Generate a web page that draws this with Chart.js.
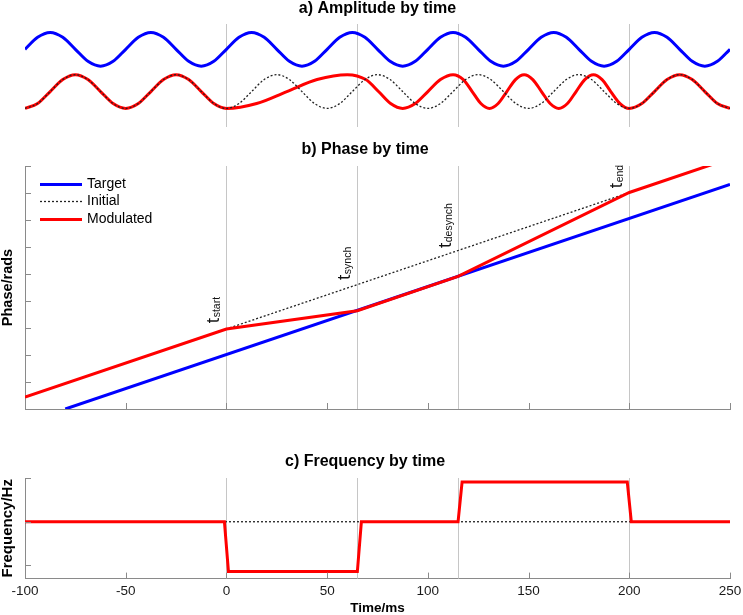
<!DOCTYPE html>
<html lang="en">
<head>
<meta charset="UTF-8">
<title>Amplitude, phase and frequency by time</title>
<script src="https://cdn.jsdelivr.net/npm/chart.js"></script>
<style>
  html, body { margin: 0; padding: 0; background: #fff; overflow: hidden; }
  #wrap { position: relative; width: 743px; height: 615px; overflow: hidden; }
  #wrap canvas { position: absolute; left: 0; }
</style>
</head>
<body>
<div id="wrap">
  <canvas id="ampChart" width="743" height="128" style="top:-1px"></canvas>
  <canvas id="phaseChart" width="743" height="271" style="top:140px"></canvas>
  <canvas id="freqChart" width="743" height="164" style="top:452px"></canvas>
</div>
<script>
// event markers (ms) and where their labels sit on the phase axis
const eventTimes = [0, 65, 115, 200];
const eventNames = ['start', 'synch', 'desynch', 'end'];
const eventLabelPhase = [15.9, 23.9, 29.8, 40.9];

// a) amplitude, every eighth of a cycle
const ampTimes = [-100, -93.75, -87.5, -81.25, -75, -68.75, -62.5, -56.25, -50, -43.75, -37.5, -31.25,
  -25, -18.75, -12.5, -6.25, 0, 6.25, 12.5, 18.75, 25, 31.25, 37.5, 43.75, 50, 56.25, 62.5, 68.75,
  75, 81.25, 87.5, 93.75, 100, 106.25, 112.5, 118.75, 125, 131.25, 137.5, 143.75, 150, 156.25,
  162.5, 168.75, 175, 181.25, 187.5, 193.75, 200, 206.25, 212.5, 218.75, 225, 231.25, 237.5, 243.75, 250];
const ampTarget = [2.5, 3.21, 3.5, 3.21, 2.5, 1.79, 1.5, 1.79, 2.5, 3.21, 3.5, 3.21,
  2.5, 1.79, 1.5, 1.79, 2.5, 3.21, 3.5, 3.21, 2.5, 1.79, 1.5, 1.79, 2.5, 3.21, 3.5, 3.21,
  2.5, 1.79, 1.5, 1.79, 2.5, 3.21, 3.5, 3.21, 2.5, 1.79, 1.5, 1.79, 2.5, 3.21,
  3.5, 3.21, 2.5, 1.79, 1.5, 1.79, 2.5, 3.21, 3.5, 3.21, 2.5, 1.79, 1.5, 1.79, 2.5];
const ampInitial = [-1, -0.71, 0, 0.71, 1, 0.71, 0, -0.71, -1, -0.71, 0, 0.71,
  1, 0.71, 0, -0.71, -1, -0.71, 0, 0.71, 1, 0.71, 0, -0.71, -1, -0.71, 0, 0.71,
  1, 0.71, 0, -0.71, -1, -0.71, 0, 0.71, 1, 0.71, 0, -0.71, -1, -0.71,
  0, 0.71, 1, 0.71, 0, -0.71, -1, -0.71, 0, 0.71, 1, 0.71, 0, -0.71, -1];
const ampModTimes = [-100, -93.75, -87.5, -81.25, -75, -68.75, -62.5, -56.25, -50, -43.75, -37.5, -31.25,
  -25, -18.75, -12.5, -6.25, 0, 15, 30, 45, 60, 69.2, 75.5, 81.5, 87.5, 93.75, 100, 106.25, 112.5,
  117.6, 122, 126.3, 130.6, 134.9, 139.2, 143.5, 147.8, 152.1, 156.4, 160.7, 165, 169.3, 173.6,
  177.9, 182.2, 186.5, 190.8, 195.4, 200, 206.25, 212.5, 218.75, 225, 231.25, 237.5, 243.75, 250];
const ampModulated = [-1, -0.71, 0, 0.71, 1, 0.71, 0, -0.71, -1, -0.71, 0, 0.71,
  1, 0.71, 0, -0.71, -1, -0.71, 0, 0.71, 1, 0.71, 0, -0.71, -1, -0.71, 0, 0.71, 1,
  0.71, 0, -0.71, -1, -0.71, 0, 0.71, 1, 0.71, 0, -0.71, -1, -0.71, 0,
  0.71, 1, 0.71, 0, -0.71, -1, -0.71, 0, 0.71, 1, 0.71, 0, -0.71, -1];

// b) phase (rads)
const phaseTargetTimes = [-80, 250];
const phaseTarget = [0, 41.6];
const phaseInitialTimes = [-100, 250];
const phaseInitial = [2.2, 46.4];
const phaseModTimes = [-100, 0, 65, 115, 200, 250];
const phaseModulated = [2.2, 14.8, 18.2, 24.55, 40.1, 46.4];

// c) frequency (Hz)
const freqInitialTimes = [-100, 250];
const freqInitial = [20, 20];
const freqModTimes = [-100, -1, 1, 65, 67, 115, 117, 199, 201, 250];
const freqModulated = [20, 20, 8.6, 8.6, 20, 20, 29.1, 29.1, 20, 20];

// tick positions
const timeTicks = [-100, -50, 0, 50, 100, 150, 200, 250];
const phaseTicks = [0, 5, 10, 15, 20, 25, 30, 35, 40, 45];
const freqTicks = [10, 20, 30];

const BLUE = '#0000ff';
const RED = '#ff0000';
const DASH = '#222222';
const AXIS = '#8a8a8a';

Chart.defaults.font.family = '"Liberation Sans", Arial, sans-serif';
Chart.defaults.color = '#000';

function pts(t, v) {
  return t.map((x, i) => ({ x: x, y: v[i] }));
}
function setTicks(list) {
  return scale => { scale.ticks = list.map(v => ({ value: v })); };
}

// thin grey vertical lines at the event times
const eventLines = {
  id: 'eventLines',
  beforeDatasetsDraw(chart) {
    const { ctx, chartArea, scales: { x } } = chart;
    ctx.save();
    ctx.strokeStyle = '#c6c6c6';
    ctx.lineWidth = 1;
    eventTimes.forEach(t => {
      const px = Math.round(x.getPixelForValue(t)) + 0.5;
      ctx.beginPath();
      ctx.moveTo(px, chartArea.top);
      ctx.lineTo(px, chartArea.bottom);
      ctx.stroke();
    });
    ctx.restore();
  }
};

// matlab style ticks pointing into the plot
const inwardTicks = {
  id: 'inwardTicks',
  afterDatasetsDraw(chart, args, opts) {
    const { ctx, scales: { x, y } } = chart;
    const len = opts.len || 6;
    ctx.save();
    ctx.strokeStyle = AXIS;
    ctx.lineWidth = 1;
    ctx.beginPath();
    x.ticks.forEach((t, i) => {
      const px = Math.round(x.getPixelForTick(i)) + 0.5;
      ctx.moveTo(px, x.top);
      ctx.lineTo(px, x.top - len);
    });
    y.ticks.forEach((t, i) => {
      const py = Math.round(y.getPixelForTick(i)) + 0.5;
      ctx.moveTo(y.right, py);
      ctx.lineTo(y.right + len, py);
    });
    ctx.stroke();
    ctx.restore();
  }
};

// rotated t_start, t_synch ... labels next to the event lines
const eventLabels = {
  id: 'eventLabels',
  afterDatasetsDraw(chart) {
    const { ctx, scales: { x, y } } = chart;
    eventTimes.forEach((t, i) => {
      ctx.save();
      ctx.translate(x.getPixelForValue(t) - 7, y.getPixelForValue(eventLabelPhase[i]));
      ctx.rotate(-Math.PI / 2);
      ctx.fillStyle = '#111';
      ctx.textBaseline = 'alphabetic';
      ctx.font = '19px "Liberation Sans", Arial, sans-serif';
      ctx.fillText('t', 0, 0);
      const w = ctx.measureText('t').width;
      ctx.font = '10.5px "Liberation Sans", Arial, sans-serif';
      ctx.fillText(eventNames[i], w + 0.5, 1);
      ctx.restore();
    });
  }
};

// legend drawn inside the plot, top left
const lineLegend = {
  id: 'lineLegend',
  afterDatasetsDraw(chart) {
    const { ctx, chartArea } = chart;
    ctx.save();
    ctx.font = '14px "Liberation Sans", Arial, sans-serif';
    ctx.textBaseline = 'middle';
    chart.data.datasets.forEach((ds, row) => {
      const y = Math.round(chartArea.top + 17.5 + row * 17.5) + 0.5;
      ctx.strokeStyle = ds.borderColor;
      ctx.lineWidth = ds.borderWidth;
      ctx.setLineDash(ds.borderDash || []);
      ctx.beginPath();
      ctx.moveTo(chartArea.left + 15, y);
      ctx.lineTo(chartArea.left + 57, y);
      ctx.stroke();
      ctx.setLineDash([]);
      ctx.fillStyle = '#000';
      ctx.fillText(ds.label, chartArea.left + 62, y);
    });
    ctx.restore();
  }
};

const titleFont = { size: 16, weight: 'bold' };
const common = {
  responsive: false,
  animation: false,
  events: [],
  elements: { point: { radius: 0 } }
};

// a) Amplitude by time
new Chart(document.getElementById('ampChart'), {
  type: 'line',
  data: {
    datasets: [
      { label: 'Target', data: pts(ampTimes, ampTarget), borderColor: BLUE, borderWidth: 3,
        cubicInterpolationMode: 'monotone', order: 2 },
      { label: 'Modulated', data: pts(ampModTimes, ampModulated), borderColor: RED, borderWidth: 3,
        cubicInterpolationMode: 'monotone', order: 1 },
      { label: 'Initial', data: pts(ampTimes, ampInitial), borderColor: DASH, borderWidth: 1.3,
        borderDash: [2, 2], cubicInterpolationMode: 'monotone', order: 0 }
    ]
  },
  options: Object.assign({}, common, {
    layout: { padding: { left: 25, right: 13, top: 0, bottom: 0 } },
    scales: {
      x: { type: 'linear', min: -100, max: 250, display: false },
      y: { min: -2.1, max: 4.0, display: false }
    },
    plugins: {
      legend: { display: false },
      tooltip: { enabled: false },
      title: { display: true, text: 'a) Amplitude by time', font: titleFont, color: '#000',
        padding: { top: 0, bottom: 5.8 } }
    }
  }),
  plugins: [eventLines]
});

// b) Phase by time
new Chart(document.getElementById('phaseChart'), {
  type: 'line',
  data: {
    datasets: [
      { label: 'Target', data: pts(phaseTargetTimes, phaseTarget), borderColor: BLUE, borderWidth: 3,
        tension: 0, order: 2 },
      { label: 'Initial', data: pts(phaseInitialTimes, phaseInitial), borderColor: DASH, borderWidth: 1.3,
        borderDash: [2, 2], tension: 0, order: 1 },
      { label: 'Modulated', data: pts(phaseModTimes, phaseModulated), borderColor: RED, borderWidth: 3,
        tension: 0, order: 0 }
    ]
  },
  options: Object.assign({}, common, {
    layout: { padding: { left: 0, right: 13, top: 0, bottom: 2 } },
    scales: {
      x: {
        type: 'linear', min: -100, max: 250,
        afterBuildTicks: setTicks(timeTicks),
        ticks: { display: false },
        grid: { display: false, drawTicks: false, tickLength: 0 },
        border: { display: true, color: AXIS, width: 1 }
      },
      y: {
        min: 0, max: 45,
        afterBuildTicks: setTicks(phaseTicks),
        ticks: { display: false },
        grid: { display: false, drawTicks: false, tickLength: 0 },
        border: { display: true, color: AXIS, width: 1 },
        title: { display: true, text: 'Phase/rads', color: '#000', font: { size: 14.5, weight: 'bold' },
          padding: { top: -1.2, bottom: 8.8 } }
      }
    },
    plugins: {
      legend: { display: false },
      tooltip: { enabled: false },
      title: { display: true, text: 'b) Phase by time', font: titleFont, color: '#000',
        padding: { top: 0, bottom: 6.8 } },
      inwardTicks: { len: 6 }
    }
  }),
  plugins: [eventLines, inwardTicks, eventLabels, lineLegend]
});

// c) Frequency by time
new Chart(document.getElementById('freqChart'), {
  type: 'line',
  data: {
    datasets: [
      { label: 'Initial', data: pts(freqInitialTimes, freqInitial), borderColor: DASH, borderWidth: 1.3,
        borderDash: [2, 2], tension: 0, order: 1 },
      { label: 'Modulated', data: pts(freqModTimes, freqModulated), borderColor: RED, borderWidth: 3,
        tension: 0, order: 0 }
    ]
  },
  options: Object.assign({}, common, {
    layout: { padding: { left: 0, right: 13, top: 0, bottom: 0 } },
    scales: {
      x: {
        type: 'linear', min: -100, max: 250,
        afterBuildTicks: setTicks(timeTicks),
        ticks: { display: true, padding: 0, maxRotation: 0, autoSkip: false, color: '#1a1a1a',
          font: { size: 13.5 } },
        // hidden tick marks only used to push the labels down
        grid: { display: false, drawTicks: true, tickLength: 5 },
        border: { display: true, color: AXIS, width: 1 },
        title: { display: true, text: 'Time/ms', color: '#000', font: { size: 13.5, weight: 'bold' },
          padding: { top: 0, bottom: 0 } }
      },
      y: {
        min: 7, max: 30,
        afterBuildTicks: setTicks(freqTicks),
        ticks: { display: false },
        grid: { display: false, drawTicks: false, tickLength: 0 },
        border: { display: true, color: AXIS, width: 1 },
        title: { display: true, text: 'Frequency/Hz', color: '#000', font: { size: 15, weight: 'bold' },
          padding: { top: -1.5, bottom: 8.5 } }
      }
    },
    plugins: {
      legend: { display: false },
      tooltip: { enabled: false },
      title: { display: true, text: 'c) Frequency by time', font: titleFont, color: '#000',
        padding: { top: 0, bottom: 6.8 } },
      inwardTicks: { len: 6 }
    }
  }),
  plugins: [eventLines, inwardTicks]
});
</script>
</body>
</html>
